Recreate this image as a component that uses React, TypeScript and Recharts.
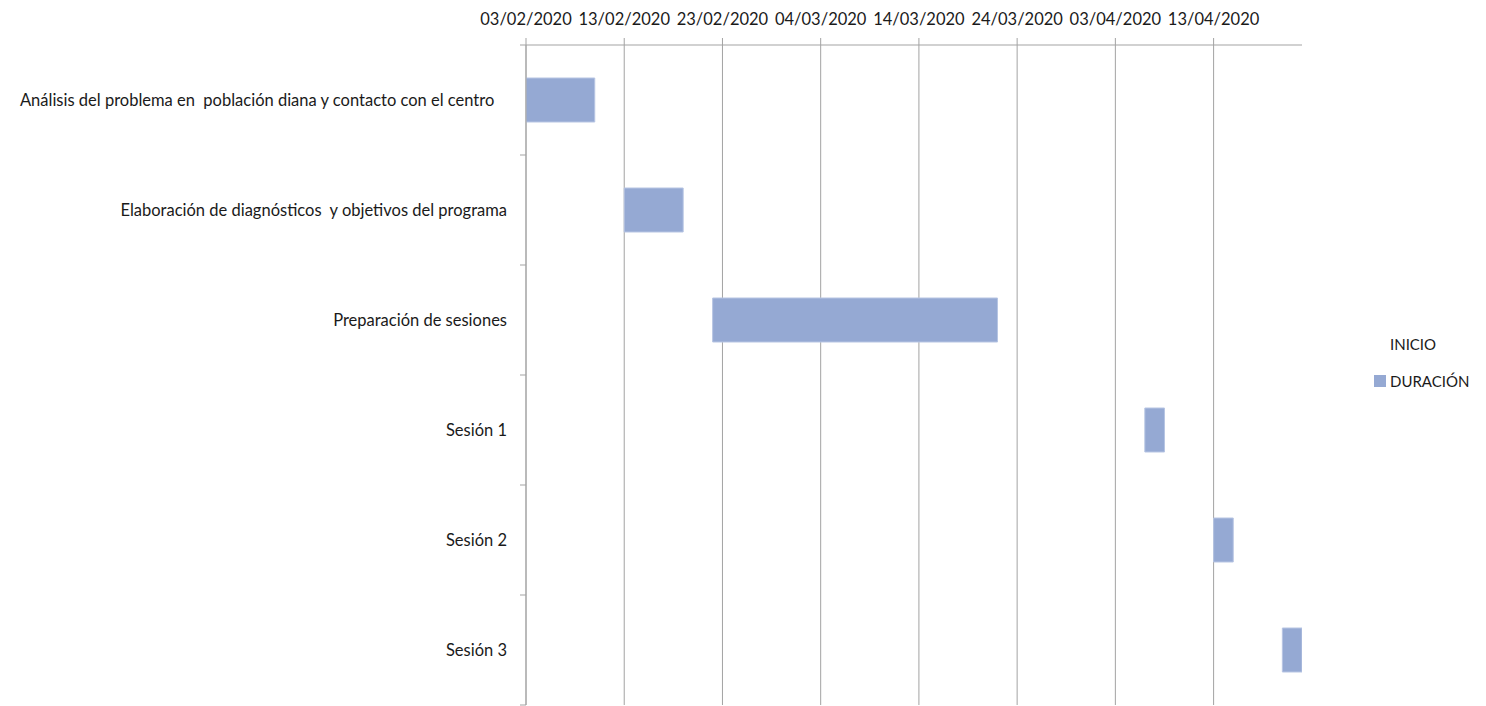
import { BarChart, Bar, XAxis, YAxis, CartesianGrid, Legend } from "recharts";

// tareas del cronograma (eje de categorías)
const TASKS = [
  "Análisis del problema en\u00a0 población diana y contacto con el centro\u00a0\u00a0\u00a0",
  "Elaboración de diagnósticos\u00a0 y objetivos del programa",
  "Preparación de sesiones",
  "Sesión 1",
  "Sesión 2",
  "Sesión 3",
];
const START_DATES = [
  "03/02/2020",
  "13/02/2020",
  "22/02/2020",
  "06/04/2020",
  "13/04/2020",
  "20/04/2020",
];
const DURATION_DAYS = [7, 6, 29, 2, 2, 2];

const TICK_DATES = [
  "03/02/2020",
  "13/02/2020",
  "23/02/2020",
  "04/03/2020",
  "14/03/2020",
  "24/03/2020",
  "03/04/2020",
  "13/04/2020",
];
const AXIS_END_DATE = "22/04/2020";

const DAY = 86400000;
const toTime = (s: string) => {
  const [d, m, y] = s.split("/").map(Number);
  return Date.UTC(y, m - 1, d);
};
const ORIGIN = toTime(TICK_DATES[0]);
const toDays = (s: string) => Math.round((toTime(s) - ORIGIN) / DAY);
const fmtDay = (n: number) => {
  const dt = new Date(ORIGIN + n * DAY);
  const dd = String(dt.getUTCDate()).padStart(2, "0");
  const mm = String(dt.getUTCMonth() + 1).padStart(2, "0");
  return `${dd}/${mm}/${dt.getUTCFullYear()}`;
};

const data = TASKS.map((task, i) => ({
  task,
  inicio: toDays(START_DATES[i]),
  duracion: DURATION_DAYS[i],
}));

const FONT = "Lato, 'Noto Sans', sans-serif";
const TEXT = "#1a1a1a";
const GRID = "#a3a3a3";
const BAR = "#95a9d3";
const TICK_SIZE = 6;
const TICK_MARGIN = 13;

function TaskTick(props: any) {
  const { x, y, payload, index, visibleTicksCount } = props;
  const axisX = x + TICK_SIZE + TICK_MARGIN;
  const half = payload.offset ?? 0;
  return (
    <g>
      <line x1={axisX - TICK_SIZE} x2={axisX} y1={y - half} y2={y - half} stroke={GRID} />
      {index === visibleTicksCount - 1 && (
        <line x1={axisX - TICK_SIZE} x2={axisX} y1={y + half} y2={y + half} stroke={GRID} />
      )}
      <text
        x={x}
        y={y}
        dy="0.35em"
        textAnchor="end"
        fill={TEXT}
        fontFamily={FONT}
        fontSize={16.5}
        style={{ whiteSpace: "pre" }}
      >
        {payload.value}
      </text>
    </g>
  );
}

function GanttLegend({ payload }: any) {
  return (
    <div style={{ fontFamily: FONT, fontSize: 15, color: TEXT }}>
      {(payload || []).map((p: any) => (
        <div
          key={p.value}
          style={{ display: "flex", alignItems: "center", height: 37 }}
        >
          <span
            style={{
              width: 12,
              height: 12,
              marginRight: 4,
              background: p.color === "transparent" ? "transparent" : p.color,
            }}
          />
          <span>{p.value}</span>
        </div>
      ))}
    </div>
  );
}

export default function App() {
  return (
    <div style={{ position: "absolute", left: 0, top: 0, background: "#fff" }}>
      <BarChart
        width={1486}
        height={706}
        data={data}
        layout="vertical"
        barCategoryGap="30%"
        margin={{ top: 0, right: 184, bottom: 1, left: 0 }}
      >
        <CartesianGrid horizontal={false} stroke={GRID} syncWithTicks />
        <XAxis
          type="number"
          orientation="top"
          domain={[0, toDays(AXIS_END_DATE)]}
          ticks={TICK_DATES.map(toDays)}
          allowDataOverflow
          height={45}
          tickSize={7}
          tickMargin={13}
          tickFormatter={fmtDay}
          axisLine={{ stroke: GRID }}
          tickLine={{ stroke: GRID }}
          tick={{ fill: TEXT, fontFamily: FONT, fontSize: 16.5 }}
        />
        <YAxis
          type="category"
          dataKey="task"
          width={526}
          tickSize={TICK_SIZE}
          tickMargin={TICK_MARGIN}
          tickLine={false}
          axisLine={{ stroke: GRID }}
          interval={0}
          tick={<TaskTick />}
        />
        <Legend
          layout="horizontal"
          align="center"
          verticalAlign="middle"
          itemSorter={() => 0}
          content={<GanttLegend />}
          wrapperStyle={{ left: 1374, top: 325, width: 112 }}
        />
        <Bar
          dataKey="inicio"
          name="INICIO"
          stackId="g"
          fill="transparent"
          isAnimationActive={false}
        />
        <Bar
          dataKey="duracion"
          name="DURACIÓN"
          stackId="g"
          fill={BAR}
          stroke="#b7c5e3"
          strokeWidth={1}
          isAnimationActive={false}
        />
      </BarChart>
    </div>
  );
}
